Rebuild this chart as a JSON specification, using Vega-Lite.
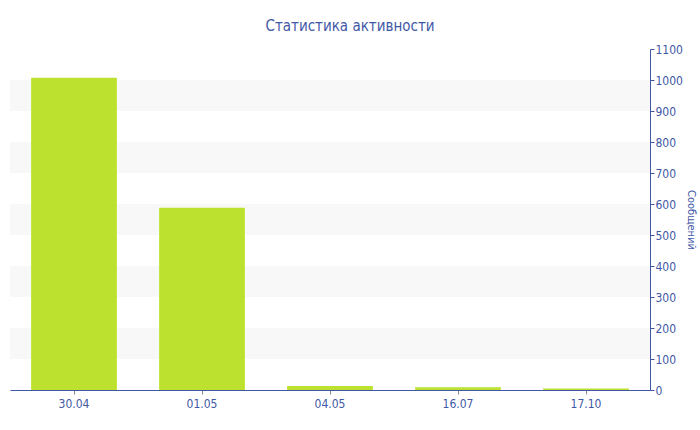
{
  "$schema": "https://vega.github.io/schema/vega-lite/v6.json",
  "width": 640,
  "height": 341,
  "autosize": {"type": "none"},
  "padding": {"left": 10, "top": 49, "right": 50, "bottom": 40},
  "background": "white",
  "title": {
    "text": "Статистика активности",
    "font": "DejaVu Sans Condensed",
    "fontSize": 15,
    "fontWeight": "normal",
    "color": "#3f58a6",
    "dx": 20,
    "offset": 9
  },
  "config": {
    "view": {"stroke": null},
    "font": "DejaVu Sans Condensed",
    "axisY": {
      "orient": "right",
      "titleFont": "DejaVu Sans Condensed",
      "titleFontSize": 11,
      "titleFontWeight": "normal",
      "titleColor": "#3f58a6",
      "titleAngle": 90,
      "titlePadding": 3,
      "grid": false,
      "labelFont": "DejaVu Sans Condensed",
      "labelFontSize": 12,
      "labelColor": "#3f58a6",
      "domainColor": "#3f58a6",
      "tickColor": "#3f58a6",
      "tickSize": 4,
      "labelPadding": 1
    }
  },
  "datasets": {
    "bars": [
      {"date": "30.04", "count": 1007},
      {"date": "01.05", "count": 588},
      {"date": "04.05", "count": 13},
      {"date": "16.07", "count": 9},
      {"date": "17.10", "count": 5}
    ],
    "bands": [
      {"lo": 100, "hi": 200},
      {"lo": 300, "hi": 400},
      {"lo": 500, "hi": 600},
      {"lo": 700, "hi": 800},
      {"lo": 900, "hi": 1000}
    ]
  },
  "layer": [
    {
      "data": {"name": "bands"},
      "mark": {"type": "rect", "color": "#f8f8f8"},
      "encoding": {
        "y": {
          "field": "lo",
          "type": "quantitative",
          "scale": {"domain": [0, 1100], "nice": false},
          "axis": {
            "orient": "right",
            "title": "Сообщений",
            "format": "d",
            "values": [0, 100, 200, 300, 400, 500, 600, 700, 800, 900, 1000, 1100]
          }
        },
        "y2": {"field": "hi"}
      }
    },
    {
      "data": {"name": "bars"},
      "mark": {"type": "bar", "color": "#bce22f"},
      "encoding": {
        "x": {
          "field": "date",
          "type": "nominal",
          "sort": null,
          "scale": {"paddingInner": 0.33, "paddingOuter": 0.165},
          "axis": {
            "title": null,
            "labelAngle": 0,
            "labelFont": "DejaVu Sans Condensed",
            "labelFontSize": 12,
            "labelColor": "#3f58a6",
            "domainColor": "#3f58a6",
            "tickColor": "#888888",
            "tickSize": 4,
            "labelPadding": 4
          }
        },
        "y": {
          "field": "count",
          "type": "quantitative",
          "scale": {"domain": [0, 1100], "nice": false},
          "axis": {
            "orient": "right",
            "title": "Сообщений",
            "format": "d",
            "values": [0, 100, 200, 300, 400, 500, 600, 700, 800, 900, 1000, 1100]
          }
        }
      }
    }
  ]
}
